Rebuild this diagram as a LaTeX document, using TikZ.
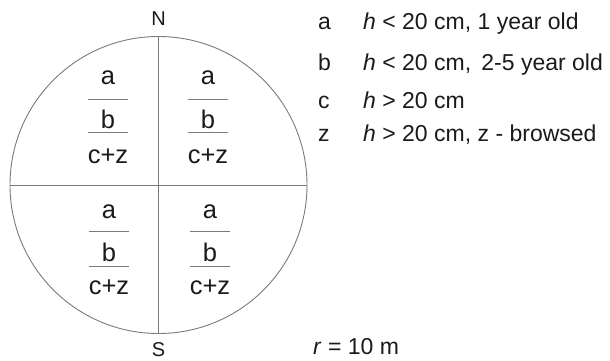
\documentclass[tikz,border=0pt]{standalone}
\usepackage{fontspec}
\setmainfont{Liberation Sans}
\usetikzlibrary{positioning}
\definecolor{plotline}{HTML}{7A7A7A}
\definecolor{plottext}{HTML}{1A1A1A}

\begin{document}
\begin{tikzpicture}[x=1pt, y=-1pt,
    cell/.style={font=\fontsize{25.5}{30}\selectfont, text=plottext, anchor=base, inner sep=0pt},
    compass/.style={font=\fontsize{20}{24}\selectfont, text=plottext, anchor=base, inner sep=0pt},
    key/.style={font=\fontsize{23}{27}\selectfont, text=plottext, anchor=base west, inner sep=0pt},
    bar/.style={plotline, line width=0.8pt},
  ]
  \useasboundingbox (0,0) rectangle (610,360);

  % sample plot, quartered N-S and W-E
  \node[circle, draw=plotline, line width=0.9pt, minimum size=297pt, inner sep=0pt] (plot) at (158.5,185) {};
  \draw[bar] (plot.north) -- (plot.south);
  \draw[bar] (plot.west) -- (plot.east);
  \node[compass] (north) at (158.5,25) {N};
  \node[compass] (south) at (158.5,356) {S};

  % tally in each quarter: a over b over c+z
  \foreach \q/\qx/\ya/\la/\yb/\lb/\yc in {nw/108/84/99/128/132/163, ne/208/84/99/128/132/163,
                                         sw/109/218/231/261/266/294, se/210/218/231/261/266/294}{
    \node[cell] (\q-a) at (\qx,\ya) {a};
    \node[cell] (\q-b) at (\qx,\yb) {b};
    \node[cell] (\q-cz) at (\qx,\yc) {c+z};
    \draw[bar, line width=0.7pt] (\qx-20,\la) -- (\qx+20,\la);
    \draw[bar, line width=0.7pt] (\qx-20,\lb) -- (\qx+20,\lb);
  }

  % key
  \foreach \k/\ky/\txt in {a/29/{\textit{h} < 20 cm, 1 year old},
                           b/70/{\textit{h} < 20 cm, \,2-5 year old},
                           c/108/{\textit{h} > 20 cm},
                           z/141/{\textit{h} > 20 cm, z - browsed}}{
    \node[key] (key-\k) at (318,\ky) {\k};
    \node[key] (desc-\k) at (363,\ky) {\txt};
  }
  \node[key] (radius) at (313,354) {\textit{r} = 10 m};
\end{tikzpicture}
\end{document}
